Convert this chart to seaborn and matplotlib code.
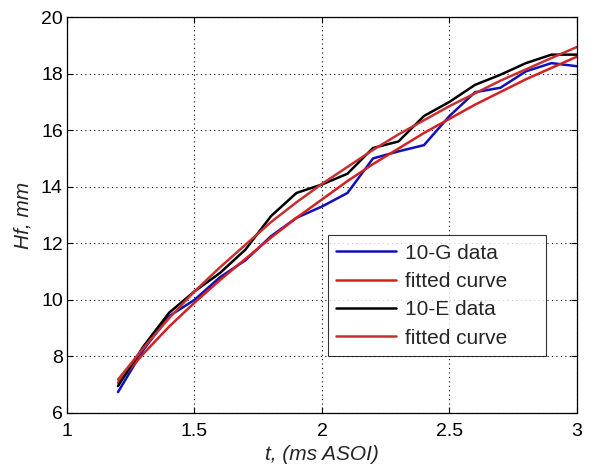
import matplotlib
matplotlib.use("Agg")
import matplotlib.pyplot as plt
import seaborn as sns
import pandas as pd

sns.set_style("white")
plt.rcParams['font.family'] = ['Liberation Sans', 'DejaVu Sans']

t = [1.2, 1.3, 1.4, 1.5, 1.6, 1.7, 1.8, 1.9, 2.0, 2.1,
     2.2, 2.3, 2.4, 2.5, 2.6, 2.7, 2.8, 2.9, 3.0]
g_data = [6.74, 8.24, 9.42, 10.0, 10.8, 11.4, 12.25, 12.9, 13.3, 13.78,
          15.0, 15.25, 15.47, 16.5, 17.34, 17.5, 18.08, 18.37, 18.26]
g_fit = [7.07, 8.1, 9.05, 9.9, 10.7, 11.45, 12.2, 12.9, 13.55, 14.2,
         14.8, 15.35, 15.9, 16.4, 16.9, 17.35, 17.8, 18.2, 18.6]
e_data = [6.95, 8.36, 9.54, 10.3, 10.95, 11.78, 12.96, 13.78, 14.08, 14.46,
          15.37, 15.6, 16.5, 17.0, 17.6, 17.96, 18.37, 18.67, 18.67]
e_fit = [7.18, 8.3, 9.35, 10.3, 11.15, 11.95, 12.75, 13.45, 14.1, 14.7,
         15.3, 15.85, 16.35, 16.85, 17.3, 17.75, 18.15, 18.55, 18.94]

labels = ["10-G data", "fitted curve", "10-E data", "fitted curve"]
series = [g_data, g_fit, e_data, e_fit]
colors = ["#1010b8", "#d42020", "#000000", "#c83030"]

fig = plt.figure(figsize=(5.95, 4.7), dpi=100)
ax = fig.add_axes([0.1126, 0.1213, 0.8571, 0.8425])

for lab, ys, c in zip(labels, series, colors):
    df = pd.DataFrame({"t": t, "y": ys})
    sns.lineplot(data=df, x="t", y="y", ax=ax, color=c, linewidth=1.8, label=lab)

ax.set_xlim(1, 3)
ax.set_ylim(6, 20)
ax.set_xticks([1, 1.5, 2, 2.5, 3])
ax.set_xticklabels(["1", "1.5", "2", "2.5", "3"])
ax.set_yticks([6, 8, 10, 12, 14, 16, 18, 20])
ax.grid(True, color="black", linestyle=(0, (1, 3)), linewidth=0.8)
ax.tick_params(direction="in", length=4, width=0.8, labelsize=14,
               top=True, right=True, bottom=True, left=True, colors="black")
ax.tick_params(axis="x", pad=7)
ax.tick_params(axis="y", pad=3)
for s in ax.spines.values():
    s.set_visible(True)
    s.set_color("black")
    s.set_linewidth(0.9)
ax.set_xlabel("t, (ms ASOI)", fontsize=15, fontstyle="italic", labelpad=4)
ax.set_ylabel("Hf, mm", fontsize=15, fontstyle="italic", labelpad=6)

leg = ax.legend(loc="lower left", bbox_to_anchor=(0.512, 0.144, 0.427, 0.316),
                mode="expand", fontsize=15,
                frameon=True, fancybox=False, edgecolor="black",
                handlelength=2.85, handletextpad=0.43, labelspacing=0.45,
                borderpad=0.4, borderaxespad=0)
leg.get_frame().set_linewidth(0.8)

fig.savefig("out.png", dpi=100)
